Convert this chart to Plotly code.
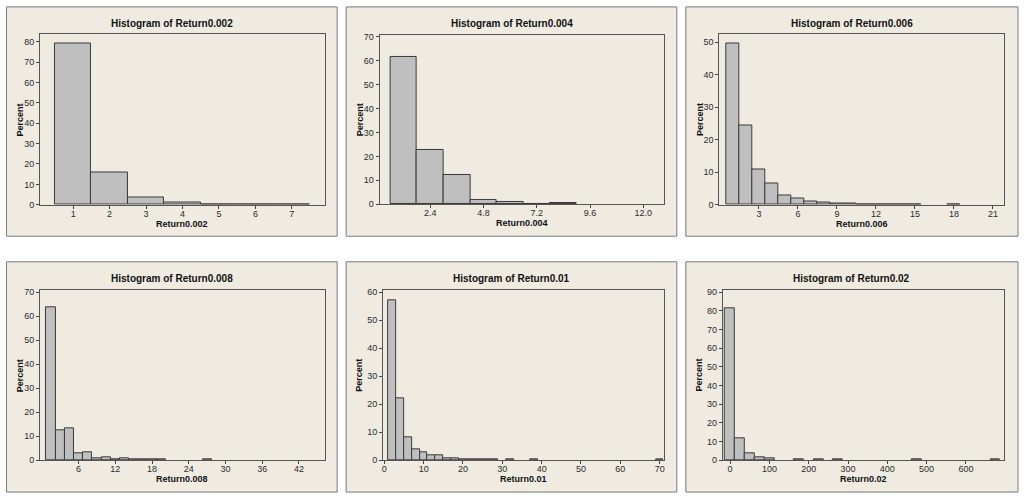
import plotly.graph_objects as go

# ---- data (bin centres and percent heights) ----
titles = ["Histogram of Return0.002", "Histogram of Return0.004", "Histogram of Return0.006",
          "Histogram of Return0.008", "Histogram of Return0.01", "Histogram of Return0.02"]
xlabels = ["Return0.002", "Return0.004", "Return0.006", "Return0.008", "Return0.01", "Return0.02"]

p1_centers = [1, 2, 3, 4, 5, 6, 7]
p1_pct = [79.0, 16.0, 3.5, 0.9, 0.3, 0.05, 0.05]

p2_centers = [1.2, 2.4, 3.6, 4.8, 6.0, 7.2, 8.4]
p2_pct = [61.7, 22.6, 12.2, 1.9, 0.8, 0.2, 0.5]

p3_centers = [1, 2, 3, 4, 5, 6, 7, 8, 9, 10, 11, 12, 13, 14, 15, 18]
p3_pct = [49.7, 24.3, 10.8, 6.5, 2.8, 1.8, 0.9, 0.6, 0.3, 0.3, 0.1, 0.1, 0.1, 0.1, 0.1, 0.1]

p4_centers = [1.5, 3, 4.5, 6, 7.5, 9, 10.5, 12, 13.5, 15, 16.5, 18, 19.5, 27]
p4_pct = [63.9, 12.6, 13.2, 2.7, 3.1, 0.9, 1.1, 0.5, 0.9, 0.2, 0.2, 0.2, 0.2, 0.2]

p5_centers = [2, 4, 6, 8, 10, 12, 14, 16, 18, 20, 22, 24, 26, 28, 32, 38, 70]
p5_pct = [57.2, 22.0, 8.1, 3.8, 2.9, 1.6, 1.6, 0.7, 0.7, 0.3, 0.3, 0.3, 0.2, 0.2, 0.15, 0.15, 0.15]

p6_centers = [0, 25, 50, 75, 100, 175, 225, 275, 475, 675]
p6_pct = [81.4, 11.5, 3.8, 1.5, 1.1, 0.25, 0.25, 0.25, 0.25, 0.25]

bin_widths = [1, 1.2, 1, 1.5, 2, 25]

x_ticks = [[1, 2, 3, 4, 5, 6, 7],
           [2.4, 4.8, 7.2, 9.6, 12.0],
           [3, 6, 9, 12, 15, 18, 21],
           [6, 12, 18, 24, 30, 36, 42],
           [0, 10, 20, 30, 40, 50, 60, 70],
           [0, 100, 200, 300, 400, 500, 600]]
x_ticktext = [None, ["2.4", "4.8", "7.2", "9.6", "12.0"], None, None, None, None]
y_ticks = [list(range(0, 81, 10)), list(range(0, 71, 10)), list(range(0, 51, 10)),
           list(range(0, 71, 10)), list(range(0, 61, 10)), list(range(0, 91, 10))]

centers = [p1_centers, p2_centers, p3_centers, p4_centers, p5_centers, p6_centers]
pcts = [p1_pct, p2_pct, p3_pct, p4_pct, p5_pct, p6_pct]

# ---- layout geometry (pixels) ----
W, H = 1024, 500
panels = [(5.5, 4, 336.5, 237), (345.5, 4, 676.5, 237), (685.5, 4, 1018, 237),
          (5.5, 263, 336.5, 497), (345.5, 263, 676.5, 497), (685.5, 263, 1018, 497)]
plots = [(39, 32, 324, 205), (379, 32.5, 664, 204.5), (719, 32, 1004, 205),
         (39, 292, 324, 464.5), (382.5, 292, 664, 464.5), (722.5, 292, 1004, 464.5)]
x_ranges = [[0.09, 7.9], [0.12, 12.95], [-0.05, 21.85], [-0.3, 46.2], [-0.3, 71.2], [-18.6, 697]]
y_ranges = [[0, 83.6], [0, 70.7], [0, 52.4], [0, 70.8], [0, 60.7], [0, 91]]

FONT = "Liberation Sans"
TXT = "#2b2b2b"

fig = go.Figure()
shapes = []
annotations = []
layout_axes = {}

for i in range(6):
    n = "" if i == 0 else str(i + 1)
    px0, py0, px1, py1 = plots[i]
    fig.add_trace(go.Bar(
        x=centers[i], y=pcts[i], width=bin_widths[i],
        marker=dict(color="#bfbfbf", line=dict(color="#3a3a3a", width=1)),
        xaxis="x" + n, yaxis="y" + n, showlegend=False, hoverinfo="x+y"))
    layout_axes["xaxis" + n] = dict(
        domain=[px0 / W, px1 / W], range=x_ranges[i], anchor="y" + n,
        tickmode="array", tickvals=x_ticks[i],
        ticktext=x_ticktext[i] if x_ticktext[i] else [str(v) for v in x_ticks[i]],
        ticks="outside", ticklen=3, tickcolor="#444", showgrid=False, zeroline=False,
        showline=True, linecolor="#555", linewidth=1, mirror=True,
        ticklabelstandoff=-3,
        tickfont=dict(family=FONT, size=9, color=TXT))
    layout_axes["yaxis" + n] = dict(
        domain=[1 - py1 / H, 1 - py0 / H], range=y_ranges[i], anchor="x" + n,
        tickmode="array", tickvals=y_ticks[i],
        ticks="outside", ticklen=3, tickcolor="#444", showgrid=False, zeroline=False,
        showline=True, linecolor="#555", linewidth=1, mirror=True,
        tickfont=dict(family=FONT, size=9, color=TXT))

    bx0, by0, bx1, by1 = panels[i]
    shapes.append(dict(type="rect", xref="paper", yref="paper", layer="below",
                       x0=bx0 / W, x1=bx1 / W, y0=1 - by1 / H, y1=1 - by0 / H,
                       fillcolor="#efebe1", line=dict(color="#7a7a7a", width=1)))
    # title
    annotations.append(dict(text="<b>" + titles[i] + "</b>", xref="paper", yref="paper",
                            x=((bx0 + bx1) / 2) / W, y=1 - (by0 + 17) / H,
                            xanchor="center", yanchor="middle", showarrow=False,
                            font=dict(family=FONT, size=10, color="#111")))
    # x axis title
    annotations.append(dict(text="<b>" + xlabels[i] + "</b>", xref="paper", yref="paper",
                            x=((px0 + px1) / 2) / W, y=1 - (py1 + 19.5) / H,
                            xanchor="center", yanchor="middle", showarrow=False,
                            font=dict(family=FONT, size=9, color="#111")))
    # y axis title
    annotations.append(dict(text="<b>Percent</b>", xref="paper", yref="paper",
                            x=(bx0 + 13.5) / W, y=1 - ((py0 + py1) / 2) / H,
                            xanchor="center", yanchor="middle", showarrow=False, textangle=-90,
                            font=dict(family=FONT, size=9, color="#111")))

fig.update_layout(width=W, height=H, margin=dict(l=0, r=0, t=0, b=0),
                  paper_bgcolor="white", plot_bgcolor="white",
                  shapes=shapes, annotations=annotations, bargap=0, **layout_axes)

fig.write_html("out.html", config={"displayModeBar": False})

# remove the browser's default page margin so the 1024x500 figure fills the window exactly
with open("out.html", "r", encoding="utf-8") as f:
    html = f.read()
html = html.replace("<head>", "<head><style>html,body{margin:0;padding:0;overflow:hidden;}</style>", 1)
with open("out.html", "w", encoding="utf-8") as f:
    f.write(html)
